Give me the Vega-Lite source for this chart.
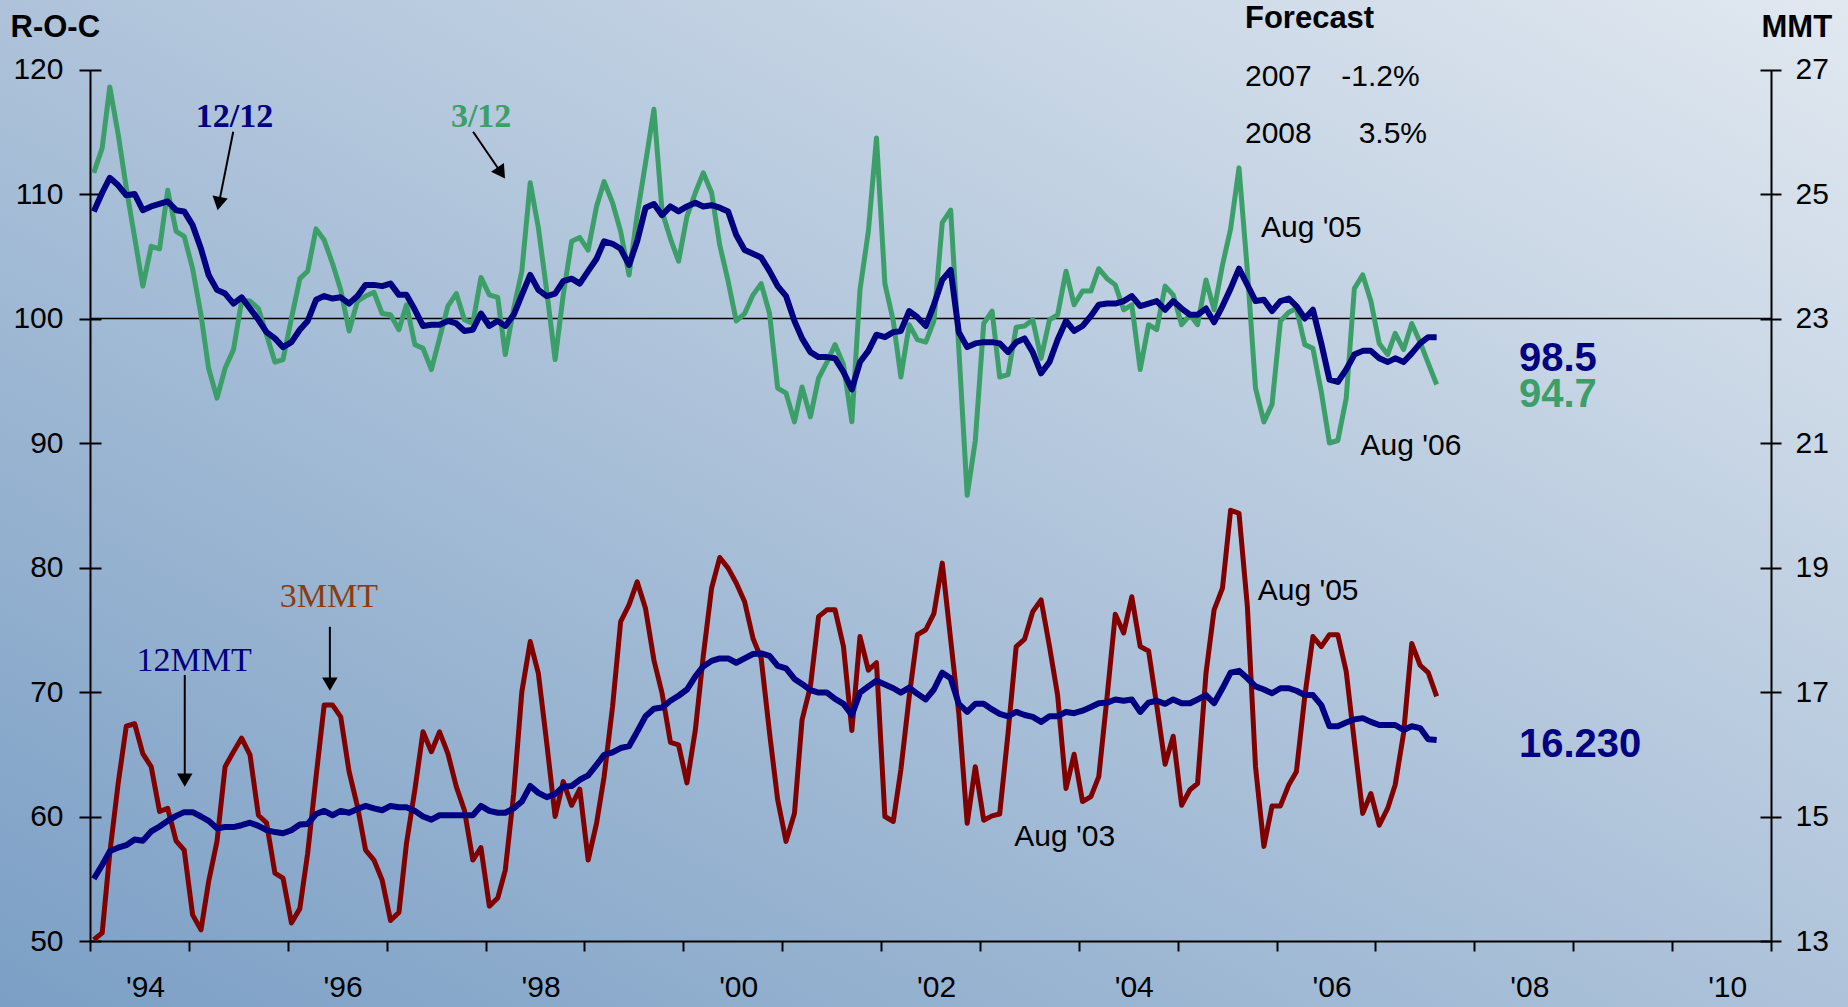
{
"$schema": "https://vega.github.io/schema/vega-lite/v6.json",
"width": 1848, "height": 1007,
"autosize": {"type": "none"},
"padding": 0,
"background": "#aec3da",
"view": {"stroke": null, "fill": {"gradient": "linear", "x1": 0, "y1": 1, "x2": 1, "y2": 0, "stops": [{"offset": 0, "color": "#7b9fc5"}, {"offset": 0.5, "color": "#aec3da"}, {"offset": 1, "color": "#e1e8f0"}]}},
"config": {
  "view": {"stroke": null},
  "axis": {"domainColor": "black", "domainWidth": 2, "tickColor": "black", "tickWidth": 2, "labelColor": "black", "labelFont": "Liberation Sans", "labelFontSize": 30, "grid": false, "titleColor": "black", "labelBound": false}
},
"datasets": {
"series": [
{"d":"1994-01-15","roc3":111.7,"roc12":108.6,"mmt3":13.02,"mmt12":14.0},
{"d":"1994-02-15","roc3":113.7,"roc12":110.1,"mmt3":13.13,"mmt12":14.22},
{"d":"1994-03-15","roc3":118.6,"roc12":111.3,"mmt3":14.41,"mmt12":14.44},
{"d":"1994-04-15","roc3":114.8,"roc12":110.7,"mmt3":15.53,"mmt12":14.5},
{"d":"1994-05-15","roc3":110.5,"roc12":109.9,"mmt3":16.45,"mmt12":14.54},
{"d":"1994-06-15","roc3":106.5,"roc12":110.0,"mmt3":16.49,"mmt12":14.63},
{"d":"1994-07-15","roc3":102.6,"roc12":108.7,"mmt3":16.01,"mmt12":14.61},
{"d":"1994-08-15","roc3":105.8,"roc12":109.0,"mmt3":15.8,"mmt12":14.76},
{"d":"1994-09-15","roc3":105.6,"roc12":109.2,"mmt3":15.08,"mmt12":14.84},
{"d":"1994-10-15","roc3":110.3,"roc12":109.4,"mmt3":15.13,"mmt12":14.93},
{"d":"1994-11-15","roc3":107.0,"roc12":108.7,"mmt3":14.61,"mmt12":15.01},
{"d":"1994-12-15","roc3":106.6,"roc12":108.6,"mmt3":14.46,"mmt12":15.07},
{"d":"1995-01-15","roc3":104.0,"roc12":107.5,"mmt3":13.42,"mmt12":15.07},
{"d":"1995-02-15","roc3":100.3,"roc12":105.6,"mmt3":13.18,"mmt12":15.0},
{"d":"1995-03-15","roc3":96.0,"roc12":103.5,"mmt3":13.95,"mmt12":14.93},
{"d":"1995-04-15","roc3":93.6,"roc12":102.3,"mmt3":14.6,"mmt12":14.81},
{"d":"1995-05-15","roc3":96.0,"roc12":102.0,"mmt3":15.8,"mmt12":14.83},
{"d":"1995-06-15","roc3":97.5,"roc12":101.2,"mmt3":16.04,"mmt12":14.83},
{"d":"1995-07-15","roc3":101.4,"roc12":101.7,"mmt3":16.26,"mmt12":14.86},
{"d":"1995-08-15","roc3":101.4,"roc12":100.8,"mmt3":15.99,"mmt12":14.9},
{"d":"1995-09-15","roc3":100.8,"roc12":99.9,"mmt3":15.02,"mmt12":14.85},
{"d":"1995-10-15","roc3":98.7,"roc12":98.9,"mmt3":14.9,"mmt12":14.78},
{"d":"1995-11-15","roc3":96.5,"roc12":98.4,"mmt3":14.09,"mmt12":14.75},
{"d":"1995-12-15","roc3":96.7,"roc12":97.7,"mmt3":14.01,"mmt12":14.73},
{"d":"1996-01-15","roc3":100.0,"roc12":98.1,"mmt3":13.29,"mmt12":14.78},
{"d":"1996-02-15","roc3":103.2,"roc12":99.1,"mmt3":13.52,"mmt12":14.87},
{"d":"1996-03-15","roc3":103.8,"roc12":99.8,"mmt3":14.41,"mmt12":14.88},
{"d":"1996-04-15","roc3":107.2,"roc12":101.5,"mmt3":15.64,"mmt12":15.04},
{"d":"1996-05-15","roc3":106.3,"roc12":101.8,"mmt3":16.79,"mmt12":15.09},
{"d":"1996-06-15","roc3":104.4,"roc12":101.6,"mmt3":16.79,"mmt12":15.02},
{"d":"1996-07-15","roc3":102.3,"roc12":101.7,"mmt3":16.6,"mmt12":15.09},
{"d":"1996-08-15","roc3":99.0,"roc12":101.2,"mmt3":15.72,"mmt12":15.06},
{"d":"1996-09-15","roc3":101.4,"roc12":101.8,"mmt3":15.16,"mmt12":15.12},
{"d":"1996-10-15","roc3":101.8,"roc12":102.7,"mmt3":14.46,"mmt12":15.17},
{"d":"1996-11-15","roc3":102.1,"roc12":102.7,"mmt3":14.3,"mmt12":15.13},
{"d":"1996-12-15","roc3":100.4,"roc12":102.6,"mmt3":13.98,"mmt12":15.1},
{"d":"1997-01-15","roc3":100.3,"roc12":102.8,"mmt3":13.33,"mmt12":15.17},
{"d":"1997-02-15","roc3":99.1,"roc12":101.9,"mmt3":13.46,"mmt12":15.15},
{"d":"1997-03-15","roc3":101.1,"roc12":101.9,"mmt3":14.57,"mmt12":15.15},
{"d":"1997-04-15","roc3":97.9,"roc12":100.7,"mmt3":15.43,"mmt12":15.09},
{"d":"1997-05-15","roc3":97.6,"roc12":99.4,"mmt3":16.36,"mmt12":15.0},
{"d":"1997-06-15","roc3":95.9,"roc12":99.5,"mmt3":16.04,"mmt12":14.95},
{"d":"1997-07-15","roc3":98.4,"roc12":99.5,"mmt3":16.36,"mmt12":15.02},
{"d":"1997-08-15","roc3":101.0,"roc12":99.8,"mmt3":16.01,"mmt12":15.02},
{"d":"1997-09-15","roc3":102.0,"roc12":99.6,"mmt3":15.48,"mmt12":15.02},
{"d":"1997-10-15","roc3":99.9,"roc12":99.0,"mmt3":15.1,"mmt12":15.02},
{"d":"1997-11-15","roc3":99.6,"roc12":99.1,"mmt3":14.3,"mmt12":15.02},
{"d":"1997-12-15","roc3":103.3,"roc12":100.4,"mmt3":14.5,"mmt12":15.17},
{"d":"1998-01-15","roc3":101.9,"roc12":99.4,"mmt3":13.56,"mmt12":15.09},
{"d":"1998-02-15","roc3":101.7,"roc12":99.8,"mmt3":13.69,"mmt12":15.06},
{"d":"1998-03-15","roc3":97.1,"roc12":99.4,"mmt3":14.14,"mmt12":15.06},
{"d":"1998-04-15","roc3":100.8,"roc12":100.3,"mmt3":15.37,"mmt12":15.13},
{"d":"1998-05-15","roc3":103.8,"roc12":101.9,"mmt3":17.0,"mmt12":15.24},
{"d":"1998-06-15","roc3":110.9,"roc12":103.5,"mmt3":17.81,"mmt12":15.49},
{"d":"1998-07-15","roc3":107.3,"roc12":102.3,"mmt3":17.3,"mmt12":15.38},
{"d":"1998-08-15","roc3":102.2,"roc12":101.8,"mmt3":16.18,"mmt12":15.31},
{"d":"1998-09-15","roc3":96.7,"roc12":102.0,"mmt3":15.0,"mmt12":15.36},
{"d":"1998-10-15","roc3":101.9,"roc12":103.0,"mmt3":15.56,"mmt12":15.48},
{"d":"1998-11-15","roc3":106.2,"roc12":103.2,"mmt3":15.18,"mmt12":15.49},
{"d":"1998-12-15","roc3":106.5,"roc12":102.8,"mmt3":15.44,"mmt12":15.59},
{"d":"1999-01-15","roc3":105.5,"roc12":103.8,"mmt3":14.3,"mmt12":15.66},
{"d":"1999-02-15","roc3":109.0,"roc12":104.8,"mmt3":14.89,"mmt12":15.83},
{"d":"1999-03-15","roc3":111.0,"roc12":106.2,"mmt3":15.64,"mmt12":15.99},
{"d":"1999-04-15","roc3":109.3,"roc12":106.0,"mmt3":16.76,"mmt12":16.03},
{"d":"1999-05-15","roc3":107.0,"roc12":105.6,"mmt3":18.13,"mmt12":16.1},
{"d":"1999-06-15","roc3":103.5,"roc12":104.3,"mmt3":18.4,"mmt12":16.13},
{"d":"1999-07-15","roc3":108.3,"roc12":106.2,"mmt3":18.77,"mmt12":16.36},
{"d":"1999-08-15","roc3":112.5,"roc12":108.9,"mmt3":18.34,"mmt12":16.61},
{"d":"1999-09-15","roc3":116.8,"roc12":109.2,"mmt3":17.51,"mmt12":16.73},
{"d":"1999-10-15","roc3":108.6,"roc12":108.3,"mmt3":16.98,"mmt12":16.75},
{"d":"1999-11-15","roc3":106.4,"roc12":109.0,"mmt3":16.19,"mmt12":16.86},
{"d":"1999-12-15","roc3":104.6,"roc12":108.6,"mmt3":16.15,"mmt12":16.94},
{"d":"2000-01-15","roc3":108.2,"roc12":109.0,"mmt3":15.54,"mmt12":17.04},
{"d":"2000-02-15","roc3":110.1,"roc12":109.3,"mmt3":16.39,"mmt12":17.25},
{"d":"2000-03-15","roc3":111.7,"roc12":109.0,"mmt3":17.57,"mmt12":17.41},
{"d":"2000-04-15","roc3":110.1,"roc12":109.1,"mmt3":18.67,"mmt12":17.5},
{"d":"2000-05-15","roc3":105.9,"roc12":108.9,"mmt3":19.16,"mmt12":17.54},
{"d":"2000-06-15","roc3":103.0,"roc12":108.6,"mmt3":18.99,"mmt12":17.54},
{"d":"2000-07-15","roc3":99.8,"roc12":106.7,"mmt3":18.75,"mmt12":17.47},
{"d":"2000-08-15","roc3":100.4,"roc12":105.5,"mmt3":18.45,"mmt12":17.54},
{"d":"2000-09-15","roc3":101.9,"roc12":105.2,"mmt3":17.86,"mmt12":17.61},
{"d":"2000-10-15","roc3":102.8,"roc12":104.9,"mmt3":17.54,"mmt12":17.62},
{"d":"2000-11-15","roc3":100.4,"roc12":103.8,"mmt3":16.34,"mmt12":17.58},
{"d":"2000-12-15","roc3":94.4,"roc12":102.6,"mmt3":15.27,"mmt12":17.42},
{"d":"2001-01-15","roc3":94.0,"roc12":101.8,"mmt3":14.6,"mmt12":17.38},
{"d":"2001-02-15","roc3":91.7,"roc12":99.8,"mmt3":15.05,"mmt12":17.21},
{"d":"2001-03-15","roc3":94.5,"roc12":98.4,"mmt3":16.55,"mmt12":17.13},
{"d":"2001-04-15","roc3":92.1,"roc12":97.3,"mmt3":17.09,"mmt12":17.03},
{"d":"2001-05-15","roc3":95.2,"roc12":96.9,"mmt3":18.21,"mmt12":16.99},
{"d":"2001-06-15","roc3":96.5,"roc12":96.9,"mmt3":18.32,"mmt12":16.99},
{"d":"2001-07-15","roc3":97.9,"roc12":96.8,"mmt3":18.32,"mmt12":16.89},
{"d":"2001-08-15","roc3":96.3,"roc12":95.7,"mmt3":17.73,"mmt12":16.81},
{"d":"2001-09-15","roc3":91.7,"roc12":94.3,"mmt3":16.38,"mmt12":16.63},
{"d":"2001-10-15","roc3":102.3,"roc12":96.5,"mmt3":17.89,"mmt12":16.99},
{"d":"2001-11-15","roc3":107.0,"roc12":97.4,"mmt3":17.35,"mmt12":17.09},
{"d":"2001-12-15","roc3":114.5,"roc12":98.7,"mmt3":17.47,"mmt12":17.18},
{"d":"2002-01-15","roc3":102.8,"roc12":98.5,"mmt3":15.0,"mmt12":17.12},
{"d":"2002-02-15","roc3":99.8,"roc12":98.9,"mmt3":14.92,"mmt12":17.06},
{"d":"2002-03-15","roc3":95.3,"roc12":99.0,"mmt3":15.75,"mmt12":16.99},
{"d":"2002-04-15","roc3":99.5,"roc12":100.6,"mmt3":16.93,"mmt12":17.07},
{"d":"2002-05-15","roc3":98.3,"roc12":100.1,"mmt3":17.92,"mmt12":16.97},
{"d":"2002-06-15","roc3":98.1,"roc12":99.4,"mmt3":18.0,"mmt12":16.88},
{"d":"2002-07-15","roc3":99.8,"roc12":101.1,"mmt3":18.26,"mmt12":17.04},
{"d":"2002-08-15","roc3":107.7,"roc12":103.1,"mmt3":19.07,"mmt12":17.31},
{"d":"2002-09-15","roc3":108.7,"roc12":103.9,"mmt3":17.84,"mmt12":17.22},
{"d":"2002-10-15","roc3":97.6,"roc12":98.9,"mmt3":16.66,"mmt12":16.81},
{"d":"2002-11-15","roc3":85.8,"roc12":97.7,"mmt3":14.89,"mmt12":16.68},
{"d":"2002-12-15","roc3":90.2,"roc12":98.0,"mmt3":15.8,"mmt12":16.81},
{"d":"2003-01-15","roc3":99.6,"roc12":98.1,"mmt3":14.94,"mmt12":16.81},
{"d":"2003-02-15","roc3":100.6,"roc12":98.1,"mmt3":15.01,"mmt12":16.72},
{"d":"2003-03-15","roc3":95.3,"roc12":98.0,"mmt3":15.04,"mmt12":16.65},
{"d":"2003-04-15","roc3":95.5,"roc12":97.3,"mmt3":16.34,"mmt12":16.61},
{"d":"2003-05-15","roc3":99.3,"roc12":98.1,"mmt3":17.73,"mmt12":16.68},
{"d":"2003-06-15","roc3":99.4,"roc12":98.4,"mmt3":17.85,"mmt12":16.63},
{"d":"2003-07-15","roc3":99.9,"roc12":97.3,"mmt3":18.29,"mmt12":16.6},
{"d":"2003-08-15","roc3":96.8,"roc12":95.6,"mmt3":18.48,"mmt12":16.52},
{"d":"2003-09-15","roc3":99.9,"roc12":96.5,"mmt3":17.73,"mmt12":16.61},
{"d":"2003-10-15","roc3":100.3,"roc12":98.3,"mmt3":16.95,"mmt12":16.61},
{"d":"2003-11-15","roc3":103.8,"roc12":99.8,"mmt3":15.45,"mmt12":16.68},
{"d":"2003-12-15","roc3":101.1,"roc12":99.0,"mmt3":16.0,"mmt12":16.66},
{"d":"2004-01-15","roc3":102.2,"roc12":99.4,"mmt3":15.24,"mmt12":16.7},
{"d":"2004-02-15","roc3":102.2,"roc12":100.2,"mmt3":15.32,"mmt12":16.76},
{"d":"2004-03-15","roc3":104.0,"roc12":101.1,"mmt3":15.64,"mmt12":16.82},
{"d":"2004-04-15","roc3":103.2,"roc12":101.2,"mmt3":16.93,"mmt12":16.83},
{"d":"2004-05-15","roc3":102.7,"roc12":101.2,"mmt3":18.25,"mmt12":16.88},
{"d":"2004-06-15","roc3":100.7,"roc12":101.4,"mmt3":17.95,"mmt12":16.86},
{"d":"2004-07-15","roc3":101.1,"roc12":101.8,"mmt3":18.53,"mmt12":16.88},
{"d":"2004-08-15","roc3":95.9,"roc12":101.0,"mmt3":17.73,"mmt12":16.68},
{"d":"2004-09-15","roc3":99.5,"roc12":101.2,"mmt3":17.66,"mmt12":16.83},
{"d":"2004-10-15","roc3":99.1,"roc12":101.4,"mmt3":16.79,"mmt12":16.86},
{"d":"2004-11-15","roc3":102.6,"roc12":100.7,"mmt3":15.84,"mmt12":16.81},
{"d":"2004-12-15","roc3":101.9,"roc12":101.4,"mmt3":16.29,"mmt12":16.88},
{"d":"2005-01-15","roc3":99.5,"roc12":100.8,"mmt3":15.18,"mmt12":16.82},
{"d":"2005-02-15","roc3":100.3,"roc12":100.3,"mmt3":15.43,"mmt12":16.82},
{"d":"2005-03-15","roc3":99.5,"roc12":100.3,"mmt3":15.53,"mmt12":16.88},
{"d":"2005-04-15","roc3":103.1,"roc12":100.8,"mmt3":17.3,"mmt12":16.95},
{"d":"2005-05-15","roc3":100.7,"roc12":99.7,"mmt3":18.32,"mmt12":16.82},
{"d":"2005-06-15","roc3":104.3,"roc12":101.0,"mmt3":18.67,"mmt12":17.06},
{"d":"2005-07-15","roc3":107.2,"roc12":102.4,"mmt3":19.92,"mmt12":17.31},
{"d":"2005-08-15","roc3":112.1,"roc12":104.0,"mmt3":19.87,"mmt12":17.34},
{"d":"2005-09-15","roc3":103.8,"roc12":102.7,"mmt3":18.37,"mmt12":17.22},
{"d":"2005-10-15","roc3":94.4,"roc12":101.4,"mmt3":15.8,"mmt12":17.09},
{"d":"2005-11-15","roc3":91.7,"roc12":101.5,"mmt3":14.52,"mmt12":17.04},
{"d":"2005-12-15","roc3":93.1,"roc12":100.6,"mmt3":15.17,"mmt12":16.98},
{"d":"2006-01-15","roc3":99.8,"roc12":101.4,"mmt3":15.17,"mmt12":17.06},
{"d":"2006-02-15","roc3":100.5,"roc12":101.6,"mmt3":15.51,"mmt12":17.06},
{"d":"2006-03-15","roc3":100.8,"roc12":101.0,"mmt3":15.72,"mmt12":17.02},
{"d":"2006-04-15","roc3":97.9,"roc12":100.0,"mmt3":16.93,"mmt12":16.95},
{"d":"2006-05-15","roc3":97.6,"roc12":100.7,"mmt3":17.89,"mmt12":16.95},
{"d":"2006-06-15","roc3":94.1,"roc12":98.0,"mmt3":17.73,"mmt12":16.79},
{"d":"2006-07-15","roc3":90.0,"roc12":95.1,"mmt3":17.92,"mmt12":16.45},
{"d":"2006-08-15","roc3":90.2,"roc12":94.9,"mmt3":17.92,"mmt12":16.45},
{"d":"2006-09-15","roc3":93.6,"roc12":95.9,"mmt3":17.33,"mmt12":16.51},
{"d":"2006-10-15","roc3":102.4,"roc12":97.1,"mmt3":16.2,"mmt12":16.56},
{"d":"2006-11-15","roc3":103.5,"roc12":97.4,"mmt3":15.05,"mmt12":16.58},
{"d":"2006-12-15","roc3":101.4,"roc12":97.4,"mmt3":15.37,"mmt12":16.52},
{"d":"2007-01-15","roc3":98.0,"roc12":96.8,"mmt3":14.86,"mmt12":16.47},
{"d":"2007-02-15","roc3":97.1,"roc12":96.5,"mmt3":15.13,"mmt12":16.47},
{"d":"2007-03-15","roc3":98.8,"roc12":96.8,"mmt3":15.51,"mmt12":16.47},
{"d":"2007-04-15","roc3":97.5,"roc12":96.5,"mmt3":16.34,"mmt12":16.39},
{"d":"2007-05-15","roc3":99.6,"roc12":97.2,"mmt3":17.78,"mmt12":16.45},
{"d":"2007-06-15","roc3":98.1,"roc12":98.0,"mmt3":17.43,"mmt12":16.42},
{"d":"2007-07-15","roc3":96.4,"roc12":98.5,"mmt3":17.31,"mmt12":16.24},
{"d":"2007-08-15","roc3":94.7,"roc12":98.5,"mmt3":16.93,"mmt12":16.23}
]
},
"encoding": {
  "x": {"field": "d", "type": "temporal",
    "scale": {"type": "utc", "domain": [{"year": 1994, "month": 1, "date": 1, "utc": true}, {"year": 2011, "month": 1, "date": 1, "utc": true}], "range": [90, 1771]},
    "axis": {"orient": "bottom", "offset": -66, "title": null, "tickCount": {"interval": "year", "step": 1}, "tickSize": 10, "labelOffset": 55, "labelPadding": 21, "labelFlush": false, "labelOverlap": false,
      "labelExpr": "utcyear(datum.value) % 2 == 0 && utcyear(datum.value) <= 2010 ? utcFormat(datum.value, \"'%y\") : ''"}}
},
"layer": [
  {"data": {"values": [{"d": "1994-01-01", "d2": "2011-01-01", "v": 100}]},
   "mark": {"type": "rule", "color": "black", "strokeWidth": 1.3},
   "encoding": {"x2": {"field": "d2"}, "y": {"field": "v", "type": "quantitative", "scale": {"domain": [50, 120], "range": [941, 69.5], "nice": false, "zero": false}, "axis": null}}},
  {"data": {"name": "series"},
   "mark": {"type": "line", "color": "#3c9f69", "strokeWidth": 5, "strokeJoin": "round"},
   "encoding": {"y": {"field": "roc3", "type": "quantitative", "scale": {"domain": [50, 120], "range": [941, 69.5], "nice": false, "zero": false},
     "axis": {"orient": "left", "offset": -90, "values": [50, 60, 70, 80, 90, 100, 110, 120], "tickSize": 11, "labelPadding": 16,
       "title": "R-O-C", "titleAngle": 0, "titleAlign": "left", "titleBaseline": "alphabetic", "titleX": -80, "titleY": 36, "titleFont": "Liberation Sans", "titleFontSize": 31, "titleFontWeight": "bold"}}}},
  {"data": {"name": "series"},
   "mark": {"type": "line", "color": "#000080", "strokeWidth": 6, "strokeJoin": "round"},
   "encoding": {"y": {"field": "roc12", "type": "quantitative", "scale": {"domain": [50, 120], "range": [941, 69.5], "nice": false, "zero": false},
     "axis": {"orient": "left", "offset": -101, "values": [50, 60, 70, 80, 90, 100, 110, 120], "tickSize": 11, "labels": false, "domain": false, "title": null}}}},
  {"data": {"name": "series"},
   "mark": {"type": "line", "color": "#800000", "strokeWidth": 5, "strokeJoin": "round"},
   "encoding": {"y": {"field": "mmt3", "type": "quantitative", "scale": {"domain": [13, 27], "range": [941, 69.5], "nice": false, "zero": false},
     "axis": {"orient": "right", "offset": -77, "values": [13, 15, 17, 19, 21, 23, 25, 27], "tickSize": 10, "labelPadding": 14,
       "title": "MMT", "titleAngle": 0, "titleAlign": "left", "titleBaseline": "alphabetic", "titleX": -10, "titleY": 36, "titleFont": "Liberation Sans", "titleFontSize": 31, "titleFontWeight": "bold"}}}},
  {"data": {"name": "series"},
   "mark": {"type": "line", "color": "#000080", "strokeWidth": 6, "strokeJoin": "round"},
   "encoding": {"y": {"field": "mmt12", "type": "quantitative", "scale": {"domain": [13, 27], "range": [941, 69.5], "nice": false, "zero": false},
     "axis": {"orient": "right", "offset": -88, "values": [13, 15, 17, 19, 21, 23, 25, 27], "tickSize": 11, "labels": false, "domain": false, "title": null}}}},
  {"data": {"values": [
     {"d": "1995-06-14", "v": 115.0, "d2": "1995-04-22", "v2": 109.23},
     {"d": "1997-11-16", "v": 115.0, "d2": "1998-02-28", "v2": 111.69},
     {"d": "1996-06-05", "v": 75.24, "d2": "1996-06-05", "v2": 70.63},
     {"d": "1994-12-17", "v": 71.37, "d2": "1994-12-17", "v2": 62.92}]},
   "mark": {"type": "rule", "color": "black", "strokeWidth": 2},
   "encoding": {"x2": {"field": "d2"}, "y": {"field": "v", "type": "quantitative", "scale": {"domain": [50, 120], "range": [941, 69.5], "nice": false, "zero": false}, "axis": null}, "y2": {"field": "v2"}}},
  {"data": {"values": [{"d": "1996-06-05", "v": 70.63}, {"d": "1994-12-17", "v": 62.92}]},
   "mark": {"type": "point", "shape": "triangle-down", "filled": true, "color": "black", "opacity": 1, "size": 240, "angle": 0},
   "encoding": {"y": {"field": "v", "type": "quantitative", "scale": {"domain": [50, 120], "range": [941, 69.5], "nice": false, "zero": false}, "axis": null}}},
  {"data": {"values": [{"d": "1995-04-22", "v": 109.23}]},
   "mark": {"type": "point", "shape": "triangle-down", "filled": true, "color": "black", "opacity": 1, "size": 240, "angle": 11},
   "encoding": {"y": {"field": "v", "type": "quantitative", "scale": {"domain": [50, 120], "range": [941, 69.5], "nice": false, "zero": false}, "axis": null}}},
  {"data": {"values": [{"d": "1998-02-28", "v": 111.69}]},
   "mark": {"type": "point", "shape": "triangle-down", "filled": true, "color": "black", "opacity": 1, "size": 240, "angle": 326},
   "encoding": {"y": {"field": "v", "type": "quantitative", "scale": {"domain": [50, 120], "range": [941, 69.5], "nice": false, "zero": false}, "axis": null}}},
  {"data": {"values": [{"d": "1995-01-27", "v": 115.4, "t": "12/12"}]},
   "mark": {"type": "text", "align": "left", "baseline": "alphabetic", "font": "Liberation Serif", "fontWeight": "bold", "fontSize": 34, "color": "#000080"},
   "encoding": {"text": {"field": "t"}, "y": {"field": "v", "type": "quantitative", "scale": {"domain": [50, 120], "range": [941, 69.5], "nice": false, "zero": false}, "axis": null}}},
  {"data": {"values": [{"d": "1994-06-22", "v": 71.71, "t": "12MMT"}]},
   "mark": {"type": "text", "align": "left", "baseline": "alphabetic", "font": "Liberation Serif", "fontSize": 34, "color": "#000080"},
   "encoding": {"text": {"field": "t"}, "y": {"field": "v", "type": "quantitative", "scale": {"domain": [50, 120], "range": [941, 69.5], "nice": false, "zero": false}, "axis": null}}},
  {"data": {"values": [{"d": "1997-08-26", "v": 115.4, "t": "3/12"}]},
   "mark": {"type": "text", "align": "left", "baseline": "alphabetic", "font": "Liberation Serif", "fontWeight": "bold", "fontSize": 34, "color": "#3c9f69"},
   "encoding": {"text": {"field": "t"}, "y": {"field": "v", "type": "quantitative", "scale": {"domain": [50, 120], "range": [941, 69.5], "nice": false, "zero": false}, "axis": null}}},
  {"data": {"values": [{"d": "1995-12-03", "v": 76.8, "t": "3MMT"}]},
   "mark": {"type": "text", "align": "left", "baseline": "alphabetic", "font": "Liberation Serif", "fontSize": 34, "color": "#8a3c10"},
   "encoding": {"text": {"field": "t"}, "y": {"field": "v", "type": "quantitative", "scale": {"domain": [50, 120], "range": [941, 69.5], "nice": false, "zero": false}, "axis": null}}},
  {"data": {"values": [
     {"d": "2005-11-04", "v": 106.57, "t": "Aug '05"},
     {"d": "2006-11-07", "v": 89.04, "t": "Aug '06"},
     {"d": "2005-10-23", "v": 77.39, "t": "Aug '05"},
     {"d": "2003-05-08", "v": 57.65, "t": "Aug '03"},
     {"d": "2005-09-06", "v": 118.67, "t": "2007"},
     {"d": "2006-08-28", "v": 118.67, "t": "-1.2%"},
     {"d": "2005-09-06", "v": 114.07, "t": "2008"},
     {"d": "2006-10-31", "v": 114.07, "t": "3.5%"}]},
   "mark": {"type": "text", "align": "left", "baseline": "alphabetic", "font": "Liberation Sans", "fontSize": 30, "color": "black"},
   "encoding": {"text": {"field": "t"}, "y": {"field": "v", "type": "quantitative", "scale": {"domain": [50, 120], "range": [941, 69.5], "nice": false, "zero": false}, "axis": null}}},
  {"data": {"values": [{"d": "2005-09-06", "v": 123.31, "t": "Forecast"}]},
   "mark": {"type": "text", "align": "left", "baseline": "alphabetic", "font": "Liberation Sans", "fontWeight": "bold", "fontSize": 31, "color": "black"},
   "encoding": {"text": {"field": "t"}, "y": {"field": "v", "type": "quantitative", "scale": {"domain": [50, 120], "range": [941, 69.5], "nice": false, "zero": false}, "axis": null}}},
  {"data": {"values": [{"d": "2008-06-14", "v": 95.78, "t": "98.5"}, {"d": "2008-06-14", "v": 64.76, "t": "16.230"}]},
   "mark": {"type": "text", "align": "left", "baseline": "alphabetic", "font": "Liberation Sans", "fontWeight": "bold", "fontSize": 40, "color": "#000080"},
   "encoding": {"text": {"field": "t"}, "y": {"field": "v", "type": "quantitative", "scale": {"domain": [50, 120], "range": [941, 69.5], "nice": false, "zero": false}, "axis": null}}},
  {"data": {"values": [{"d": "2008-06-14", "v": 92.87, "t": "94.7"}]},
   "mark": {"type": "text", "align": "left", "baseline": "alphabetic", "font": "Liberation Sans", "fontWeight": "bold", "fontSize": 40, "color": "#3c9f69"},
   "encoding": {"text": {"field": "t"}, "y": {"field": "v", "type": "quantitative", "scale": {"domain": [50, 120], "range": [941, 69.5], "nice": false, "zero": false}, "axis": null}}}
],
"resolve": {"scale": {"y": "independent"}, "axis": {"y": "independent"}}
}
